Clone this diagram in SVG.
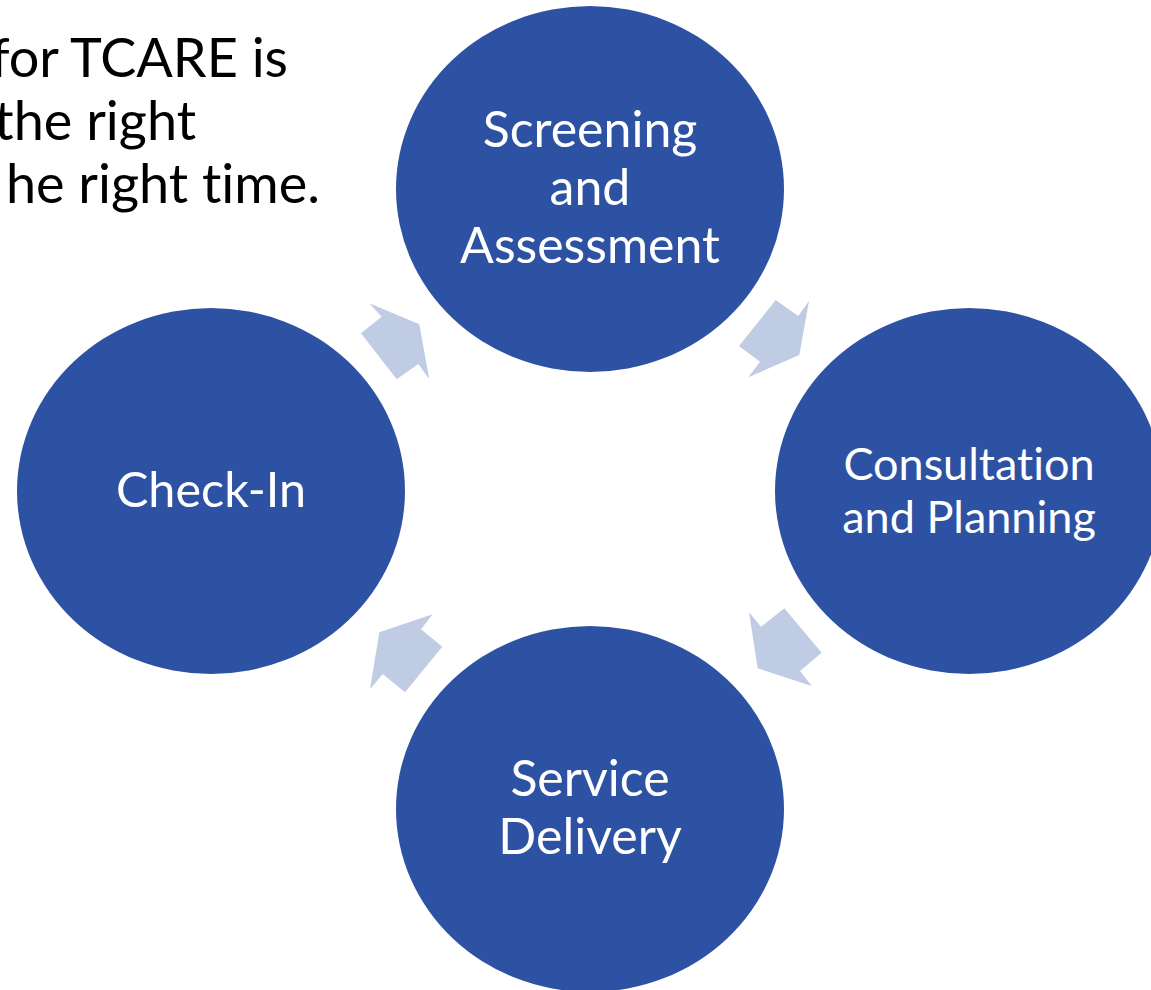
<svg xmlns="http://www.w3.org/2000/svg" width="1151" height="990" viewBox="0 0 1151 990">
  <style>
    .node { fill: #2E52A3; }
    .lbl { font-family: Lato, "Open Sans", "Liberation Sans", sans-serif; fill: #FFFFFF; text-anchor: middle; font-variant-ligatures: none; }
    .flow { fill: #C0CBE4; }
    .caption { font-family: Lato, "Open Sans", "Liberation Sans", sans-serif; font-size: 54px; fill: #000000; text-anchor: end; font-variant-ligatures: none; }
  </style>
  <rect width="1151" height="990" fill="#FFFFFF"/>

  <!-- partially visible caption at top left -->
  <g id="caption">
    <text class="caption" x="288" y="77">for TCARE is</text>
    <text class="caption" x="196" y="140">the right</text>
    <text class="caption" x="320" y="203">he right time.</text>
  </g>

  <!-- cycle arrows between steps -->
  <g id="connectors">
    <polygon class="flow" points="369.3,303.3 419.3,324.3 429.3,379.3 418.3,364 396.7,379.3 361,333.3 381.7,316.7"/>
    <polygon class="flow" points="775.7,300 798.3,316 809,301 799.3,355 748.3,377.3 760,361.7 739,346"/>
    <polygon class="flow" points="784.3,608.3 821.7,652.7 800,671 811.7,686 757.7,668.3 749,612.3 761,626.7"/>
    <polygon class="flow" points="442.3,646.7 405,692.3 382.7,674 370,689.3 379.3,632.3 432.7,614.3 421,629.3"/>
  </g>

  <g id="screening">
    <ellipse class="node" cx="590" cy="189" rx="194" ry="183"/>
    <text class="lbl" font-size="50" x="590" y="147">Screening</text>
    <text class="lbl" font-size="50" x="590" y="205">and</text>
    <text class="lbl" font-size="50" x="590" y="263">Assessment</text>
  </g>

  <g id="consultation">
    <ellipse class="node" cx="969" cy="491" rx="194" ry="183"/>
    <text class="lbl" font-size="45" x="969" y="480">Consultation</text>
    <text class="lbl" font-size="45" x="969" y="533">and Planning</text>
  </g>

  <g id="service">
    <ellipse class="node" cx="590" cy="809" rx="194" ry="183"/>
    <text class="lbl" font-size="50" x="590" y="796">Service</text>
    <text class="lbl" font-size="50" x="590" y="854">Delivery</text>
  </g>

  <g id="checkin">
    <ellipse class="node" cx="211" cy="491" rx="194" ry="183"/>
    <text class="lbl" font-size="48.5" x="211" y="507">Check-In</text>
  </g>
</svg>
